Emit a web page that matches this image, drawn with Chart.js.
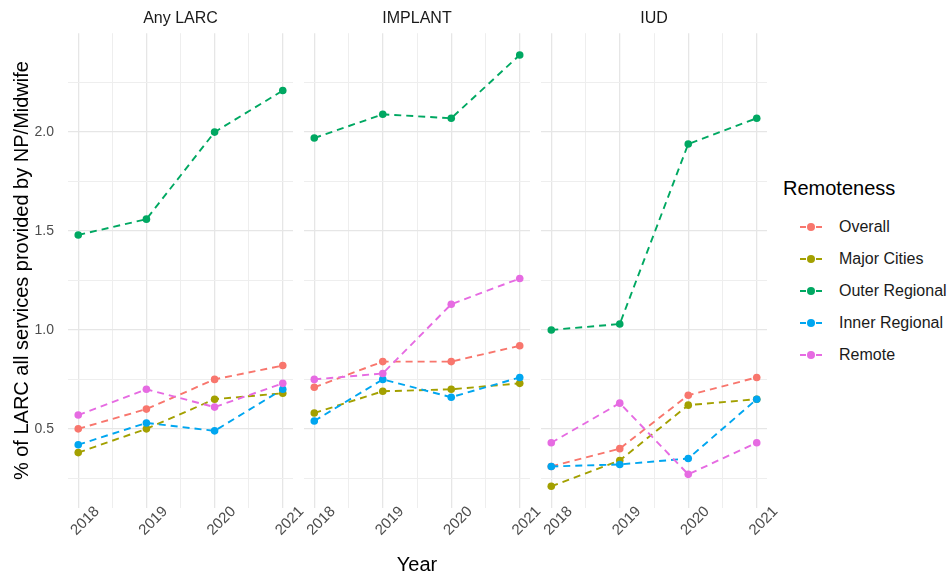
<!DOCTYPE html>
<html>
<head>
<meta charset="utf-8">
<script src="https://cdn.jsdelivr.net/npm/chart.js@4"></script>
<style>
  body { margin: 0; background: #fff; width: 950px; height: 579px; overflow: hidden; position: relative; font-family: "Liberation Sans", Arial, sans-serif; }
  canvas { position: absolute; top: 0; }
  #legend { position: absolute; left: 783px; top: 176px; }
  #legend .title { font-size: 20px; color: #000; height: 24px; line-height: 24px; margin-bottom: 11px; }
  #legend .item { position: relative; height: 32px; line-height: 32px; font-size: 16px; color: #1a1a1a; padding-left: 56px; }
  #legend .line { position: absolute; left: 17px; top: 15px; width: 22px; height: 0; border-top: 2px dashed; }
  #legend .dot { position: absolute; left: 24px; top: 12px; width: 8px; height: 8px; border-radius: 50%; }
</style>
</head>
<body>
<canvas id="panelA" width="312" height="579" style="left:0px"></canvas>
<canvas id="panelB" width="255" height="579" style="left:290px"></canvas>
<canvas id="panelC" width="255" height="579" style="left:527px"></canvas>
<div id="legend"></div>
<script>
const years = [2018, 2019, 2020, 2021];
const xMinorTicks = [2018.5, 2019.5, 2020.5];
const yMajorTicks = [0.5, 1.0, 1.5, 2.0];
const yMinorTicks = [0.25, 0.75, 1.25, 1.75, 2.25];
const panelTitles = ["Any LARC", "IMPLANT", "IUD"];
const seriesNames = ["Overall", "Major Cities", "Outer Regional", "Inner Regional", "Remote"];
const seriesColors = ["#F8766D", "#A3A000", "#00A862", "#00A6F0", "#E66BE2"];

// rows follow seriesNames
const anyLarcValues = [
  [0.50, 0.60, 0.75, 0.82],
  [0.38, 0.50, 0.65, 0.68],
  [1.48, 1.56, 2.00, 2.21],
  [0.42, 0.53, 0.49, 0.70],
  [0.57, 0.70, 0.61, 0.73],
];
const implantValues = [
  [0.71, 0.84, 0.84, 0.92],
  [0.58, 0.69, 0.70, 0.73],
  [1.97, 2.09, 2.07, 2.39],
  [0.54, 0.75, 0.66, 0.76],
  [0.75, 0.78, 1.13, 1.26],
];
const iudValues = [
  [0.31, 0.40, 0.67, 0.76],
  [0.21, 0.34, 0.62, 0.65],
  [1.00, 1.03, 1.94, 2.07],
  [0.31, 0.32, 0.35, 0.65],
  [0.43, 0.63, 0.27, 0.43],
];

const FONT = "'Liberation Sans', Arial, sans-serif";
const PANEL_BOTTOM = 508;

// year labels, rotated 45 deg and centred like ggplot
const yearLabels = {
  id: "yearLabels",
  afterDraw(chart) {
    const ctx = chart.ctx;
    const xs = chart.scales.x;
    ctx.save();
    ctx.font = "15px " + FONT;
    ctx.fillStyle = "#4D4D4D";
    ctx.textAlign = "center";
    ctx.textBaseline = "middle";
    years.forEach((yr) => {
      const px = xs.getPixelForValue(yr);
      ctx.save();
      ctx.translate(px + 7, chart.chartArea.bottom + 13);
      ctx.rotate(-Math.PI / 4);
      ctx.fillText(String(yr), 0, 0);
      ctx.restore();
    });
    ctx.restore();
  },
};

function makePanel(id, title, values, opts) {
  const datasets = values.map((vals, i) => ({
    label: seriesNames[i],
    data: vals.map((v, j) => ({ x: years[j], y: v })),
    borderColor: seriesColors[i],
    backgroundColor: seriesColors[i],
    borderWidth: 1.9,
    borderDash: [7, 5],
    pointRadius: 3.8,
    pointBorderWidth: 0,
    tension: 0,
    order: values.length - 1 - i,
  }));

  const grid = {
    drawTicks: false,
    color: (c) => (c.tick && c.tick.major ? "#E6E6E6" : "#EEEEEE"),
    lineWidth: (c) => (c.tick && c.tick.major ? 1.3 : 1),
  };

  return new Chart(document.getElementById(id), {
    type: "line",
    data: { datasets: datasets },
    plugins: [yearLabels],
    options: {
      responsive: false,
      animation: false,
      layout: { padding: { right: opts.padRight, top: 0, bottom: 0, left: 0 } },
      plugins: {
        legend: { display: false },
        tooltip: { enabled: false },
        title: {
          display: true,
          text: title,
          fullSize: false,
          color: "#1A1A1A",
          font: { family: FONT, size: 16, weight: "normal" },
          padding: { top: 9, bottom: 5 },
        },
      },
      scales: {
        x: {
          type: "linear",
          min: 2017.85,
          max: 2021.15,
          border: { display: false },
          grid: grid,
          ticks: { display: false },
          afterBuildTicks: (s) => {
            s.ticks = years.map((v) => ({ value: v, major: true }))
              .concat(xMinorTicks.map((v) => ({ value: v, major: false })));
          },
          title: {
            display: !!opts.xTitle,
            text: opts.xTitle || "",
            color: "#000",
            font: { family: FONT, size: 20 },
            padding: { top: 0, bottom: 2 },
          },
          afterFit: (s) => { s.height = 579 - PANEL_BOTTOM; },
        },
        y: {
          type: "linear",
          min: 0.10,
          max: 2.50,
          border: { display: false },
          grid: grid,
          afterBuildTicks: (s) => {
            s.ticks = yMajorTicks.map((v) => ({ value: v, major: true }))
              .concat(yMinorTicks.map((v) => ({ value: v, major: false })));
          },
          ticks: {
            display: opts.showY,
            padding: 14,
            color: "#4D4D4D",
            font: { family: FONT, size: 14 },
            callback: (v) => (yMajorTicks.includes(v) ? v.toFixed(1) : ""),
          },
          title: {
            display: opts.showY,
            text: "% of LARC all services provided by NP/Midwife",
            color: "#000",
            font: { family: FONT, size: 20 },
            padding: { top: 10, bottom: 0 },
          },
          afterFit: (s) => { s.width = opts.yWidth; },
        },
      },
    },
  });
}

makePanel("panelA", panelTitles[0], anyLarcValues, { padRight: 19, yWidth: 68, showY: true });
makePanel("panelB", panelTitles[1], implantValues, { padRight: 15, yWidth: 14, showY: false, xTitle: "Year" });
makePanel("panelC", panelTitles[2], iudValues, { padRight: 15, yWidth: 14, showY: false });

// legend
const legend = document.getElementById("legend");
legend.innerHTML = '<div class="title">Remoteness</div>';
seriesNames.forEach((name, i) => {
  const item = document.createElement("div");
  item.className = "item";
  item.innerHTML = '<span class="line" style="border-color:' + seriesColors[i] + '"></span>' +
    '<span class="dot" style="background:' + seriesColors[i] + '"></span>' + name;
  legend.appendChild(item);
});
</script>
</body>
</html>
